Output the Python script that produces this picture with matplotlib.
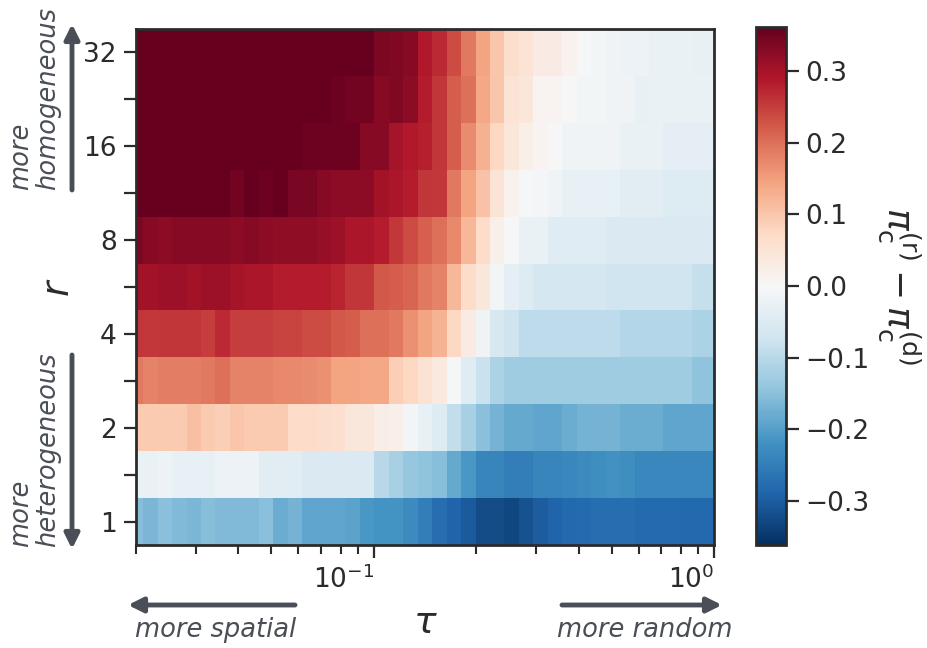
import numpy as np
import matplotlib
matplotlib.use("Agg")
import matplotlib.pyplot as plt
from matplotlib.ticker import FixedLocator, FixedFormatter, NullFormatter, LogLocator

# ---------------- data ----------------
tau = [0.0200, 0.02205, 0.02432, 0.02682, 0.02957, 0.03261, 0.03596, 0.03965,
       0.04373, 0.04822, 0.05318, 0.05864, 0.06466, 0.07131, 0.07863, 0.08671,
       0.09562, 0.10544, 0.11628, 0.12822, 0.14142, 0.15595, 0.17197, 0.18964,
       0.20913, 0.23062, 0.25431, 0.28044, 0.30925, 0.34103, 0.37606, 0.41470,
       0.45731, 0.50429, 0.55610, 0.61324, 0.67624, 0.74572, 0.82234, 0.90683, 1.0]
r_vals = [1.0, 1.414, 2.0, 2.828, 4.0, 5.657, 8.0, 11.31, 16.0, 22.63, 32.0]
r_ticks = [1, 2, 4, 8, 16, 32]
r_tick_labels = ["1", "2", "4", "8", "16", "32"]
cbar_ticks = [-0.3, -0.2, -0.1, 0.0, 0.1, 0.2, 0.3]

row_r1 = [-0.155, -0.165, -0.15, -0.16, -0.165, -0.155, -0.16, -0.16, -0.16, -0.15,
          -0.18, -0.17, -0.19, -0.19, -0.19, -0.195, -0.21, -0.215, -0.215, -0.23,
          -0.25, -0.275, -0.29, -0.305, -0.325, -0.325, -0.33, -0.315, -0.30, -0.29,
          -0.285, -0.28, -0.275, -0.275, -0.275, -0.28, -0.28, -0.28, -0.285, -0.285, -0.285]
row_r1_4 = [-0.025, -0.025, -0.02, -0.03, -0.03, -0.03, -0.022, -0.022, -0.022, -0.04,
            -0.04, -0.04, -0.055, -0.055, -0.055, -0.055, -0.055, -0.10, -0.12, -0.14,
            -0.145, -0.155, -0.185, -0.21, -0.24, -0.24, -0.25, -0.25, -0.24, -0.24,
            -0.235, -0.23, -0.225, -0.22, -0.225, -0.235, -0.235, -0.235, -0.235, -0.235, -0.235]
row_r2 = [0.095, 0.095, 0.095, 0.095, 0.11, 0.095, 0.09, 0.10, 0.095, 0.095,
          0.095, 0.07, 0.07, 0.065, 0.06, 0.04, 0.04, 0.025, 0.02, -0.01,
          -0.03, -0.05, -0.09, -0.12, -0.15, -0.17, -0.185, -0.185, -0.19, -0.19,
          -0.18, -0.17, -0.17, -0.17, -0.18, -0.18, -0.18, -0.19, -0.19, -0.19, -0.19]
row_r2_8 = [0.19, 0.18, 0.185, 0.185, 0.185, 0.19, 0.20, 0.18, 0.18, 0.18,
            0.175, 0.175, 0.17, 0.165, 0.145, 0.145, 0.14, 0.14, 0.09, 0.075,
            0.055, 0.035, -0.005, -0.045, -0.08, -0.115, -0.13, -0.13, -0.13, -0.13,
            -0.13, -0.13, -0.13, -0.13, -0.13, -0.13, -0.13, -0.13, -0.13, -0.145, -0.145]
row_r4 = [0.26, 0.255, 0.26, 0.26, 0.26, 0.25, 0.27, 0.25, 0.25, 0.25,
          0.245, 0.245, 0.235, 0.235, 0.225, 0.22, 0.20, 0.20, 0.19, 0.165,
          0.145, 0.125, 0.075, 0.03, -0.015, -0.06, -0.075, -0.095, -0.095, -0.095,
          -0.095, -0.095, -0.095, -0.095, -0.105, -0.105, -0.105, -0.105, -0.105, -0.115, -0.115]
row_r5_7 = [0.305, 0.305, 0.31, 0.31, 0.305, 0.31, 0.31, 0.30, 0.295, 0.295,
            0.285, 0.285, 0.285, 0.285, 0.275, 0.26, 0.26, 0.225, 0.22, 0.21,
            0.19, 0.18, 0.12, 0.07, 0.04, -0.01, -0.035, -0.05, -0.065, -0.065,
            -0.065, -0.065, -0.065, -0.072, -0.072, -0.072, -0.072, -0.072, -0.072, -0.085, -0.085]
row_r8 = [0.34, 0.33, 0.325, 0.33, 0.33, 0.33, 0.33, 0.325, 0.33, 0.325,
          0.32, 0.32, 0.32, 0.315, 0.31, 0.295, 0.295, 0.285, 0.255, 0.235,
          0.215, 0.20, 0.175, 0.12, 0.07, 0.02, -0.005, -0.025, -0.025, -0.045,
          -0.045, -0.045, -0.045, -0.055, -0.055, -0.055, -0.055, -0.055, -0.055, -0.055, -0.055]
row_r11_3 = [0.362, 0.36, 0.36, 0.362, 0.36, 0.36, 0.362, 0.35, 0.36, 0.355,
             0.36, 0.345, 0.345, 0.33, 0.325, 0.325, 0.325, 0.305, 0.295, 0.285,
             0.26, 0.255, 0.19, 0.145, 0.105, 0.05, 0.015, -0.005, -0.008, -0.015,
             -0.03, -0.03, -0.03, -0.03, -0.04, -0.04, -0.04, -0.05, -0.05, -0.05, -0.05]
row_r16 = [0.362, 0.362, 0.362, 0.362, 0.362, 0.362, 0.362, 0.362, 0.362, 0.362,
           0.362, 0.362, 0.355, 0.355, 0.355, 0.355, 0.33, 0.33, 0.30, 0.29,
           0.28, 0.26, 0.22, 0.17, 0.13, 0.075, 0.045, 0.02, 0.01, 0.0,
           -0.015, -0.015, -0.015, -0.015, -0.025, -0.025, -0.025, -0.035, -0.035, -0.035, -0.035]
row_r22_6 = [0.362, 0.362, 0.362, 0.362, 0.362, 0.362, 0.362, 0.362, 0.362, 0.362,
             0.362, 0.362, 0.362, 0.362, 0.355, 0.35, 0.35, 0.33, 0.335, 0.325,
             0.285, 0.26, 0.22, 0.20, 0.14, 0.10, 0.05, 0.045, 0.01, 0.01,
             0.0, -0.01, -0.01, -0.015, -0.015, -0.03, -0.025, -0.025, -0.025, -0.025, -0.025]
row_r32 = [0.362, 0.362, 0.362, 0.362, 0.362, 0.362, 0.362, 0.362, 0.362, 0.362,
           0.362, 0.362, 0.362, 0.362, 0.362, 0.362, 0.362, 0.34, 0.335, 0.33,
           0.29, 0.27, 0.235, 0.19, 0.145, 0.10, 0.065, 0.05, 0.03, 0.03,
           0.015, -0.005, -0.01, -0.015, -0.02, -0.02, -0.025, -0.025, -0.025, -0.028, -0.028]

Z = np.array([row_r1, row_r1_4, row_r2, row_r2_8, row_r4, row_r5_7,
              row_r8, row_r11_3, row_r16, row_r22_6, row_r32])

# ---------------- geometry helpers (edges in log space) ----------------
def log_edges(v):
    lv = np.log(np.asarray(v, dtype=float))
    mid = (lv[:-1] + lv[1:]) / 2
    first = lv[0] - (mid[0] - lv[0])
    last = lv[-1] + (lv[-1] - mid[-1])
    return np.exp(np.concatenate([[first], mid, [last]]))

x_edges = log_edges(tau)
y_edges = log_edges(r_vals)

# ---------------- figure ----------------
plt.rcParams['font.family'] = ['DejaVu Sans']
plt.rcParams['mathtext.fontset'] = 'dejavusans'
DARK = '#2b2b2b'
GREY = '#4a4f57'
TICK_FS = 19

fig = plt.figure(figsize=(9.28, 6.48), dpi=100)
ax = fig.add_axes([136/928, 1-545/648, (714-136)/928, (545-29)/648])
cax = fig.add_axes([756/928, 1-545/648, 30/928, (545-27)/648])

vlim = np.abs(Z).max()
mesh = ax.pcolormesh(x_edges, y_edges, Z, cmap='RdBu_r', vmin=-vlim, vmax=vlim,
                     shading='flat', rasterized=True)
ax.set_xscale('log')
ax.set_yscale('log', base=2)
ax.set_xlim(tau[0], tau[-1])
ax.set_ylim(y_edges[0], y_edges[-1])

ax.yaxis.set_major_locator(FixedLocator(r_ticks))
ax.yaxis.set_major_formatter(FixedFormatter(r_tick_labels))
minor_r = [np.sqrt(a * b) for a, b in zip(r_ticks[:-1], r_ticks[1:])]
ax.yaxis.set_minor_locator(FixedLocator(minor_r))
ax.yaxis.set_minor_formatter(NullFormatter())

ax.xaxis.set_major_locator(LogLocator(base=10))
ax.xaxis.set_minor_locator(LogLocator(base=10, subs=np.arange(2, 10)))
ax.xaxis.set_minor_formatter(NullFormatter())

for sp in ax.spines.values():
    sp.set_linewidth(2.0)
    sp.set_color(DARK)
ax.tick_params(axis='both', which='major', length=9, width=1.6, color=DARK,
               labelsize=TICK_FS, labelcolor=DARK, pad=5)
ax.tick_params(axis='y', which='minor', length=9, width=1.6, color=DARK)
ax.tick_params(axis='x', which='minor', length=6.5, width=1.5, color=DARK)
ax.tick_params(axis='x', which='major', length=9.5)
for lab in ax.get_xticklabels():
    lab.set_horizontalalignment('right')

ax.set_xlabel(r'$\tau$', fontsize=27, color=DARK, labelpad=8)
ax.set_ylabel(r'$r$', fontsize=27, color=DARK, labelpad=4)

cb = fig.colorbar(mesh, cax=cax, ticks=cbar_ticks)
cb.outline.set_linewidth(2.0)
cb.outline.set_edgecolor(DARK)
cax.tick_params(length=9, width=1.6, color=DARK, labelsize=TICK_FS, labelcolor=DARK, pad=5)
cb.set_label(r'$\pi_\mathrm{c}^{(\mathrm{r})} - \pi_\mathrm{c}^{(\mathrm{d})}$',
             rotation=270, fontsize=26, color=DARK, labelpad=38)

# ---------------- annotations ----------------
def fig_arrow(x0, y0, x1, y1):
    fig.add_artist(matplotlib.patches.FancyArrowPatch(
        (x0/928, 1-y0/648), (x1/928, 1-y1/648), transform=fig.transFigure,
        arrowstyle='-|>', mutation_scale=22, lw=3.5, color=GREY, shrinkA=0, shrinkB=0))

fig_arrow(72, 190, 72, 24)
fig_arrow(72, 355, 72, 549)
fig_arrow(295, 605, 128, 605)
fig_arrow(562, 605, 722, 605)

fig.text(35/928, 1-98/648, 'more\nhomogeneous', rotation=90, ha='center', va='center',
         multialignment='left', style='italic', fontsize=18.5, color=GREY, linespacing=1.05)
fig.text(35/928, 1-450/648, 'more\nheterogeneous', rotation=90, ha='center', va='center',
         multialignment='left', style='italic', fontsize=18.5, color=GREY, linespacing=1.05)
fig.text(216/928, 1-630/648, 'more spatial', ha='center', va='center',
         style='italic', fontsize=18.5, color=GREY)
fig.text(645/928, 1-630/648, 'more random', ha='center', va='center',
         style='italic', fontsize=18.5, color=GREY)

fig.savefig('out.png', dpi=100)
